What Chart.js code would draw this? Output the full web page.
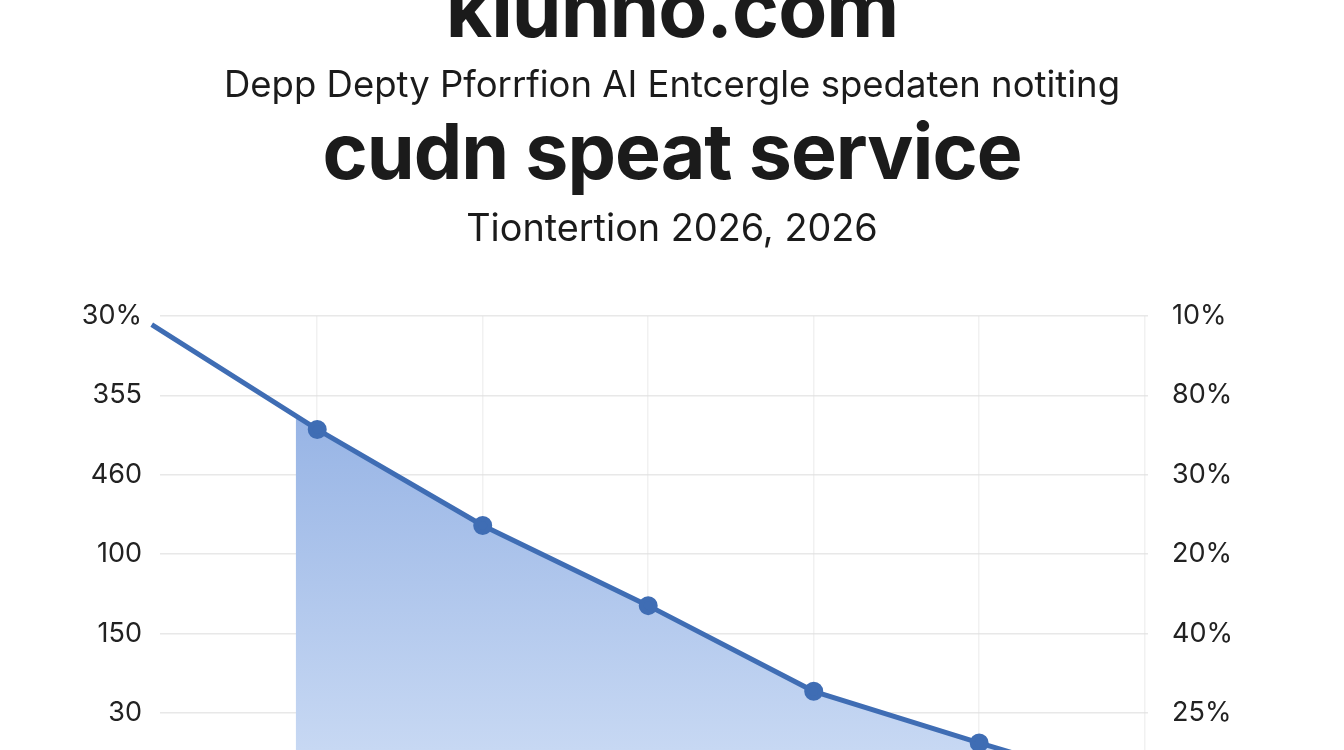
<!DOCTYPE html>
<html>
<head>
<meta charset="utf-8">
<title>cudn speat service</title>
<script src="https://cdn.jsdelivr.net/npm/chart.js@4.4.1/dist/chart.umd.min.js"></script>
<style>
    html, body {
        margin: 0;
        padding: 0;
        width: 1344px;
        height: 750px;
        overflow: hidden;
        background: #ffffff;
        font-family: Inter, 'Noto Sans', sans-serif;
        color: #1b1b1b;
    }
    .chart-wrap {
        position: absolute;
        left: 0;
        top: 0;
        width: 1344px;
        height: 985px;
    }
    .t {
        position: absolute;
        left: 0;
        width: 1344px;
        text-align: center;
        white-space: nowrap;
        line-height: 1;
    }
    #site { top: -32px; font-size: 80px; font-weight: 700; letter-spacing: -1px; }
    #sub1 { top: 66px; font-size: 36.5px; font-weight: 400; }
    #main { top: 113px; font-size: 77px; font-weight: 700; letter-spacing: -1px; }
    #sub2 { top: 209px; font-size: 37.8px; font-weight: 400; }
</style>
</head>
<body>
<div class="chart-wrap">
    <canvas id="lineChart"></canvas>
</div>
<div class="t" id="site">kiunno.com</div>
<div class="t" id="sub1">Depp Depty Pforrfion AI Entcergle spedaten notiting</div>
<div class="t" id="main">cudn speat service</div>
<div class="t" id="sub2">Tiontertion 2026, 2026</div>

<script>
// Values, in gridline units (0 = bottom of the cropped plot)
const pointIndex = [0, 1, 2, 3, 4, 5, 6];
const lineValues = [7.89, 6.57, 5.36, 4.35, 3.27, 2.62, 2.0];
// the shaded area begins a little before the second point
const fillStart = { x: 0.87, y: 6.75 };

// tick labels from top to bottom (lower ones are cut off in the picture)
const leftTickLabels = ['30%', '355', '460', '100', '150', '30', '', '', ''];
const rightTickLabels = ['10%', '80%', '30%', '20%', '40%', '25%', '', '', ''];
const yMax = 8;

document.addEventListener('DOMContentLoaded', function () {
    createLineChart();
});

function createLineChart() {
    const ctx = document.getElementById('lineChart').getContext('2d');

    const linePoints = pointIndex.map((x, i) => ({ x: x, y: lineValues[i] }));
    const areaPoints = [fillStart].concat(linePoints.slice(1));

    const tickFont = { family: 'Inter, sans-serif', size: 27 };

    new Chart(ctx, {
        type: 'line',
        data: {
            datasets: [
                {
                    label: 'line',
                    data: linePoints,
                    borderColor: '#3f6db4',
                    borderWidth: 5,
                    pointBackgroundColor: '#3f6db4',
                    pointBorderColor: '#3f6db4',
                    pointRadius: c => (c.dataIndex === 0 ? 0 : 7),
                    fill: false,
                    tension: 0,
                    clip: false,
                    order: 0,
                },
                {
                    label: 'area',
                    data: areaPoints,
                    borderWidth: 0,
                    pointRadius: 0,
                    fill: 'start',
                    tension: 0,
                    order: 1,
                    backgroundColor: function (context) {
                        const chart = context.chart;
                        if (!chart.chartArea) {
                            return 'rgba(160, 188, 232, 0.9)';
                        }
                        const yScale = chart.scales.y;
                        const g = chart.ctx.createLinearGradient(0, yScale.getPixelForValue(fillStart.y), 0, 750);
                        g.addColorStop(0, '#97b4e5');
                        g.addColorStop(1, '#c7d8f3');
                        return g;
                    },
                },
            ],
        },
        options: {
            responsive: true,
            maintainAspectRatio: false,
            animation: false,
            layout: {
                padding: { top: 316, bottom: 10, left: 0, right: 0 },
            },
            plugins: {
                legend: { display: false },
                tooltip: { enabled: false },
            },
            scales: {
                x: {
                    type: 'linear',
                    min: 0.05,
                    max: 6.02,
                    afterBuildTicks: function (scale) {
                        scale.ticks = [1, 2, 3, 4, 5, 6].map(v => ({ value: v }));
                    },
                    ticks: { display: false },
                    border: { display: false },
                    grid: {
                        color: 'rgba(225, 225, 225, 0.45)',
                        lineWidth: 1.5,
                        drawTicks: false,
                    },
                },
                y: {
                    position: 'left',
                    min: 0,
                    max: yMax,
                    afterFit: function (scale) { scale.width = 160; },
                    ticks: {
                        stepSize: 1,
                        padding: 18,
                        color: '#222222',
                        font: tickFont,
                        callback: value => leftTickLabels[yMax - value],
                    },
                    border: { display: false },
                    grid: {
                        color: 'rgba(222, 222, 222, 0.7)',
                        lineWidth: 1.5,
                        drawTicks: false,
                    },
                },
                y2: {
                    position: 'right',
                    min: 0,
                    max: yMax,
                    afterFit: function (scale) { scale.width = 196; },
                    ticks: {
                        stepSize: 1,
                        padding: 16,
                        color: '#222222',
                        font: tickFont,
                        callback: value => rightTickLabels[yMax - value],
                    },
                    border: { display: false },
                    grid: { display: false },
                },
            },
        },
    });
}
</script>
</body>
</html>
